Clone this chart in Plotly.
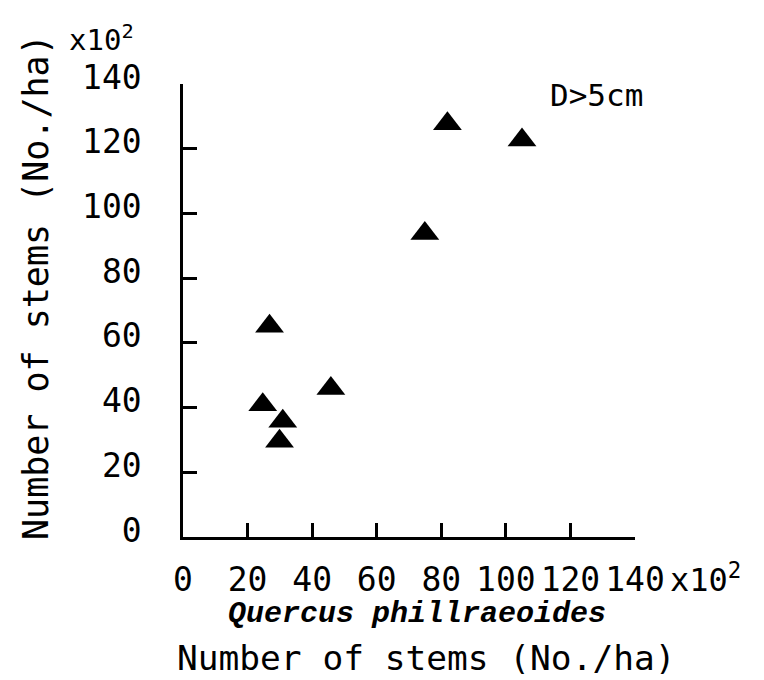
import plotly.graph_objects as go

# Data (x10^2 stems/ha)
x_stems = [26.8, 45.8, 24.7, 30.9, 29.9, 81.9, 105.0, 74.9]
y_stems = [65.1, 45.9, 40.9, 35.8, 29.6, 127.7, 122.7, 93.8]
tick_vals = [0, 20, 40, 60, 80, 100, 120, 140]
tick_text = [str(v) for v in tick_vals]

MONO = "DejaVu Sans Mono"
W, H = 764, 680
L, R, T, B = 183, 129, 84, 143
PW, PH = W - L - R, H - T - B


def px_x(p):
    return (p - L) / PW


def px_y(p):
    return (H - B - p) / PH


fig = go.Figure(
    go.Scatter(
        x=x_stems, y=y_stems, mode="markers",
        marker=dict(symbol="triangle-up", size=25, color="black", line=dict(width=0)),
        showlegend=False, cliponaxis=False, hoverinfo="skip",
    )
)

axis_common = dict(
    range=[0, 140], tickmode="array", tickvals=tick_vals, ticktext=tick_text,
    ticks="inside", ticklen=14, tickwidth=2.5, tickcolor="black",
    showline=True, linecolor="black", linewidth=2.5, mirror=False,
    showgrid=False, zeroline=False,
    tickfont=dict(family=MONO, size=33, color="black"),
    fixedrange=True,
)

fig.update_layout(
    width=W, height=H, autosize=False,
    margin=dict(l=L, r=R, t=T, b=B, pad=0),
    paper_bgcolor="white", plot_bgcolor="white",
    xaxis=dict(**axis_common, ticklabelstandoff=12),
    yaxis=dict(**axis_common, ticklabelstandoff=32, ticklabelshift=-7),
    annotations=[
        dict(text="x10<sup>2</sup>", xref="paper", yref="paper",
             x=px_x(668), y=px_y(578), xanchor="left", yanchor="middle",
             showarrow=False, font=dict(family=MONO, size=32, color="black")),
        dict(text="x10<sup>2</sup>", xref="paper", yref="paper",
             x=px_x(67), y=px_y(38), xanchor="left", yanchor="middle",
             showarrow=False, font=dict(family=MONO, size=29, color="black")),
        dict(text="<b><i>Quercus phillraeoides</i></b>", xref="paper", yref="paper",
             x=px_x(417), y=px_y(614), xanchor="center", yanchor="middle",
             showarrow=False, font=dict(family="Liberation Mono", size=30, color="black")),
        dict(text="Number of stems (No./ha)", xref="paper", yref="paper",
             x=px_x(426), y=px_y(658), xanchor="center", yanchor="middle",
             showarrow=False, font=dict(family=MONO, size=34.5, color="black")),
        dict(text="Number of stems (No./ha)", xref="paper", yref="paper",
             x=px_x(36), y=px_y(287), xanchor="center", yanchor="middle",
             textangle=-90,
             showarrow=False, font=dict(family=MONO, size=35, color="black")),
        dict(text="D>5cm", xref="paper", yref="paper",
             x=px_x(596), y=px_y(95), xanchor="center", yanchor="middle",
             showarrow=False, font=dict(family=MONO, size=31, color="black")),
    ],
)

fig.write_html("out.html")
